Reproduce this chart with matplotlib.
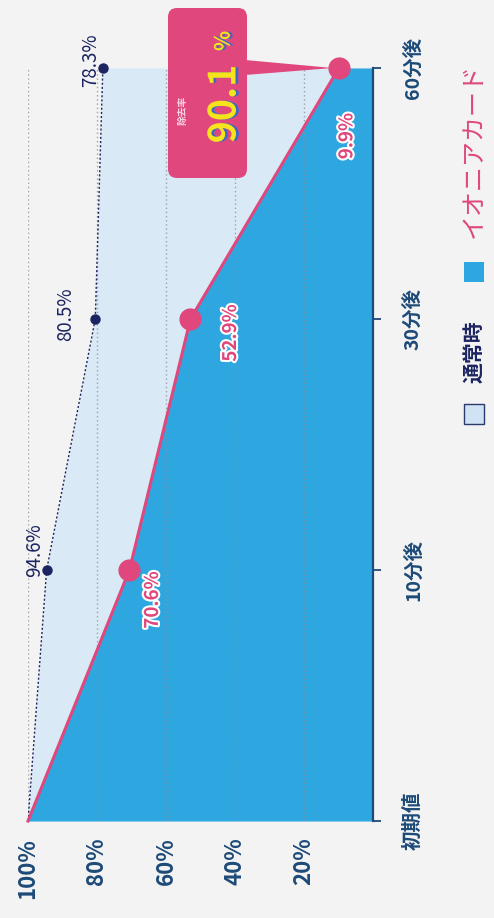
import matplotlib
matplotlib.use('Agg')
import matplotlib.pyplot as plt
import matplotlib.patheffects as pe
from matplotlib.patches import FancyBboxPatch, Polygon, Rectangle
import numpy as np

plt.rcParams['font.family'] = ['Noto Sans CJK JP', 'DejaVu Sans']

# ---- data ----
categories = ['初期値', '10分後', '30分後', '60分後']
normal_vals = [100, 94.6, 80.5, 78.3]
ionia_vals = [100, 70.6, 52.9, 9.9]
normal_labels = ['', '94.6%', '80.5%', '78.3%']
ionia_labels = ['', '70.6%', '52.9%', '9.9%']
pct_ticks = [100, 80, 60, 40, 20]
pct_labels = ['100%', '80%', '60%', '40%', '20%']
legend_labels = ['通常時', 'イオニアカード']
highlight_title = '除去率'
highlight_value = '90.1'

# ---- colours ----
BG = '#f3f3f3'
BLUE = '#2ea6e0'
LIGHT = '#d9eaf6'
PINK = '#e0487d'
NAVY = '#1c2461'
TEAL = '#1d4a78'
YELLOW = '#f6e31c'

W, H = 494, 918
fig = plt.figure(figsize=(W / 100, H / 100), dpi=100)
fig.patch.set_facecolor(BG)


def fx(x):
    return x / W


def fy(y):
    return 1 - y / H


ax = fig.add_axes([fx(28), fy(821), (373 - 28) / W, (821 - 68) / H])
ax.set_facecolor('none')
ax.set_xlim(100, 0)
ax.set_ylim(0, 3)
ypos = np.arange(len(categories))

# fills
ax.fill_betweenx(ypos, normal_vals, 0, color=LIGHT, zorder=1, lw=0)
ax.fill_betweenx(ypos, ionia_vals, 0, color=BLUE, zorder=2, lw=0)

# grid lines
ax.vlines(pct_ticks, 0, 3, colors='#8a8f99', linestyles=(0, (1, 2)),
          lw=1.0, alpha=0.8, zorder=3)

# normal line
ax.plot(normal_vals, ypos, ls=(0, (1.5, 1.5)), color=NAVY, lw=1.0, zorder=4)
ax.plot(normal_vals[1:], ypos[1:], 'o', ms=6.5, color=NAVY, zorder=5,
        clip_on=False)

# ionia line
ax.plot(ionia_vals, ypos, color=PINK, lw=2.2, zorder=6, clip_on=False)
ax.plot(ionia_vals[1:], ypos[1:], 'o', ms=15, color=PINK, zorder=7,
        clip_on=False)

# labels
n_off = [(0, 0), (-12, 20), (-30, 5), (-12, 8)]
for i in range(1, 4):
    ax.annotate(normal_labels[i], (normal_vals[i], ypos[i]),
                xytext=n_off[i], textcoords='offset pixels',
                rotation=90, ha='center', va='center', fontsize=13.5,
                color=NAVY, zorder=4.5, annotation_clip=False)

i_off = [(0, 0), (23, -30), (40, -14), (8, -68)]
for i in range(1, 4):
    ax.annotate(ionia_labels[i], (ionia_vals[i], ypos[i]),
                xytext=i_off[i], textcoords='offset pixels',
                rotation=90, ha='center', va='center', fontsize=13.5,
                fontweight='bold', color=PINK, zorder=8,
                annotation_clip=False,
                path_effects=[pe.withStroke(linewidth=3, foreground='white')])

# axes styling
for s in ['top', 'left', 'bottom']:
    ax.spines[s].set_visible(False)
ax.spines['right'].set_color(TEAL)
ax.spines['right'].set_linewidth(1.6)
ax.spines['right'].set_zorder(9)
ax.yaxis.tick_right()
ax.set_yticks(ypos)
ax.set_yticklabels(categories, rotation=90, va='center', ha='left',
                   fontsize=14, fontweight='bold', color=TEAL)
ax.tick_params(axis='y', length=6, width=1.3, color=TEAL, pad=16)
ax.set_xticks(pct_ticks)
ax.set_xticklabels(pct_labels, rotation=90, va='top', ha='center',
                   fontsize=16, fontweight='bold', color=TEAL)
ax.tick_params(axis='x', length=0, pad=12)

# ---- overlay in pixel coordinates ----
ov = fig.add_axes([0, 0, 1, 1])
ov.set_xlim(0, W)
ov.set_ylim(H, 0)
ov.axis('off')

# callout pointer tip from data point
tip_disp = ax.transData.transform((ionia_vals[-1], ypos[-1]))
tip = ov.transData.inverted().transform(tip_disp)
ov.add_patch(Polygon([(245, 60), (245, 75), (tip[0] - 6, tip[1])],
                     closed=True, fc=PINK, ec='none', zorder=1))
ov.add_patch(FancyBboxPatch((168, 8), 79, 170,
                            boxstyle='round,pad=0,rounding_size=9',
                            fc=PINK, ec='none', zorder=2))
ov.text(182, 110, highlight_title, rotation=90, ha='center', va='center',
        fontsize=7, fontweight='bold', color='#fbd3e0', zorder=3)
shadow = [pe.withSimplePatchShadow(offset=(2, 0), shadow_rgbFace='#2a6ccf',
                                    alpha=0.9)]
ov.text(224, 104, highlight_value, rotation=90, ha='center', va='center',
        fontsize=27, fontweight='bold', color=YELLOW, zorder=3,
        path_effects=shadow)
ov.text(223, 41, '%', rotation=90, ha='center', va='center',
        fontsize=15, fontweight='bold', color=YELLOW, zorder=3,
        path_effects=shadow)

# legend
ov.add_patch(Rectangle((464, 404), 20, 20, fc='#cfe3f5', ec='#2a3a6a',
                       lw=1.0, zorder=3))
ov.text(474, 352, legend_labels[0], rotation=90, ha='center', va='center',
        fontsize=15, fontweight='bold', color=NAVY, zorder=3)
ov.add_patch(Rectangle((464, 262), 20, 20, fc=BLUE, ec='none', zorder=3))
ov.text(474, 150, legend_labels[1], rotation=90, ha='center', va='center',
        fontsize=18, color=PINK, zorder=3)

fig.savefig('out.png', dpi=100, facecolor=BG)
